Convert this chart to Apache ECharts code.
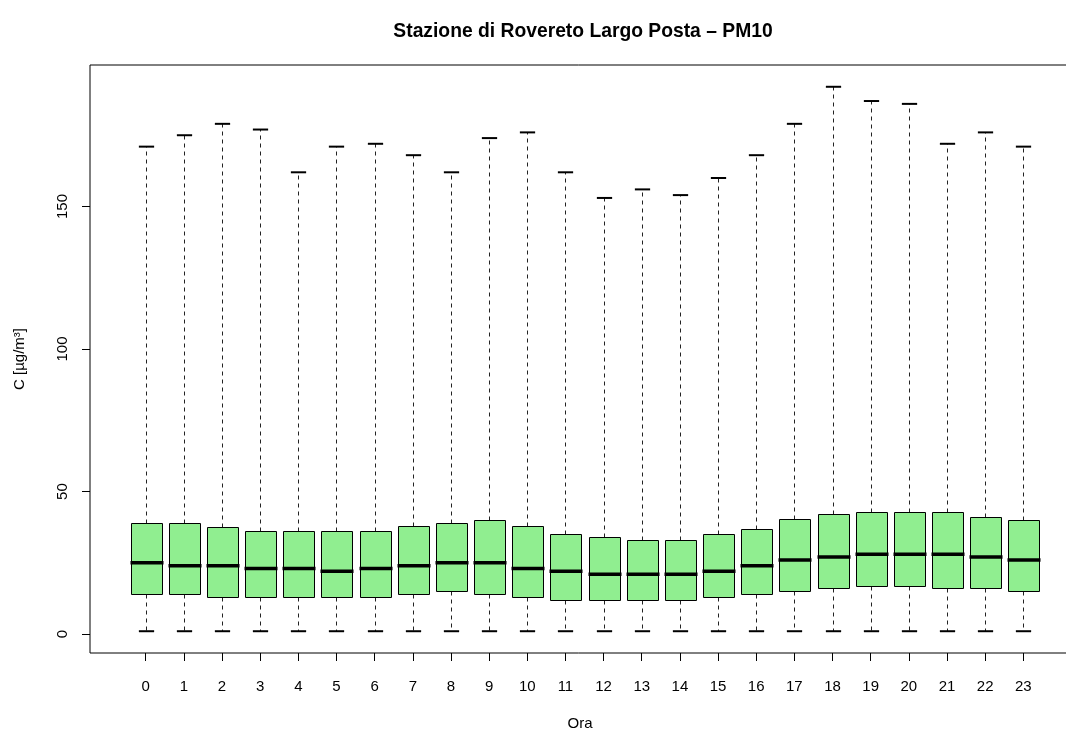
<!DOCTYPE html>
<html>
<head>
<meta charset="utf-8">
<script src="https://cdn.jsdelivr.net/npm/echarts@6/dist/echarts.min.js"></script>
<style>
html,body{margin:0;padding:0;background:#fff;}
#chart{width:1066px;height:731px;}
</style>
</head>
<body>
<div id="chart"></div>
<script>
// ---- data (µg/m³) ----
const hours       = [0,1,2,3,4,5,6,7,8,9,10,11,12,13,14,15,16,17,18,19,20,21,22,23];
const whiskerLow  = [1,1,1,1,1,1,1,1,1,1,1,1,1,1,1,1,1,1,1,1,1,1,1,1];
const q1          = [14,14,13,13,13,13,13,14,15,14,13,12,12,12,12,13,14,15,16,17,17,16,16,15];
const median      = [25,24,24,23,23,22,23,24,25,25,23,22,21,21,21,22,24,26,27,28,28,28,27,26];
const q3          = [39,39,37.5,36,36,36,36,38,39,40,38,35,34,33,33,35,37,40.5,42,43,43,43,41,40];
const whiskerHigh = [171,175,179,177,162,171,172,168,162,174,176,162,153,156,154,160,168,179,192,187,186,172,176,171];
const yTicks      = [0,50,100,150];

const titleText = 'Stazione di Rovereto Largo Posta – PM10';
const xName = 'Ora';
const yName = 'C [µg/m³]';

const FONT = '"Liberation Sans", Arial, Helvetica, sans-serif';

const boxData = hours.map((h, i) => [h, whiskerLow[i], q1[i], median[i], q3[i], whiskerHigh[i]]);

function renderItem(params, api) {
  const x = api.value(0);
  const pLo = api.coord([x, api.value(1)]);
  const pQ1 = api.coord([x, api.value(2)]);
  const pMd = api.coord([x, api.value(3)]);
  const pQ3 = api.coord([x, api.value(4)]);
  const pHi = api.coord([x, api.value(5)]);
  const bw = api.size([0.8, 0])[0];
  const cw = api.size([0.4, 0])[0];
  const cx = Math.round(pMd[0]) + 0.5;
  const left = Math.round(cx - bw / 2) + 0.5;
  const right = Math.round(cx + bw / 2) + 0.5;
  const yQ3 = Math.round(pQ3[1]) + 0.5;
  const yQ1 = Math.round(pQ1[1]) + 0.5;
  const dash = {stroke: '#222', lineWidth: 1, lineDash: [4, 4]};
  return {
    type: 'group',
    children: [
      {type: 'line', shape: {x1: cx, y1: yQ3, x2: cx, y2: pHi[1]}, style: dash},
      {type: 'line', shape: {x1: cx, y1: yQ1, x2: cx, y2: pLo[1]}, style: dash},
      {type: 'line', shape: {x1: cx - cw / 2, y1: pHi[1], x2: cx + cw / 2, y2: pHi[1]}, style: {stroke: '#000', lineWidth: 2}},
      {type: 'line', shape: {x1: cx - cw / 2, y1: pLo[1], x2: cx + cw / 2, y2: pLo[1]}, style: {stroke: '#000', lineWidth: 2}},
      {type: 'rect', shape: {x: left, y: yQ3, width: right - left, height: yQ1 - yQ3}, style: {fill: '#90EE90', stroke: '#000', lineWidth: 1}},
      {type: 'line', shape: {x1: left - 1, y1: pMd[1], x2: right + 1, y2: pMd[1]}, style: {stroke: '#000', lineWidth: 3.5}}
    ]
  };
}

const chart = echarts.init(document.getElementById('chart'), null, {renderer: 'canvas'});
chart.setOption({
  animation: false,
  backgroundColor: '#fff',
  textStyle: {fontFamily: FONT},
  title: {
    text: titleText,
    left: 578,
    textAlign: 'center',
    top: 17,
    textStyle: {fontFamily: FONT, fontWeight: 'bold', fontSize: 19.3, color: '#000'}
  },
  grid: {
    left: 90, top: 65, width: 989, height: 588,
    show: true, borderColor: '#000', borderWidth: 1, backgroundColor: 'transparent',
    containLabel: false,
    outerBoundsMode: 'none'
  },
  xAxis: {
    type: 'value',
    min: -1.46, max: 24.46,
    name: xName,
    nameLocation: 'middle',
    nameGap: 63,
    nameTextStyle: {fontFamily: FONT, fontSize: 15, color: '#000', padding: [0, 9, 0, 0]},
    axisLine: {show: false, onZero: false},
    splitLine: {show: false},
    axisTick: {show: true, inside: false, length: 8, lineStyle: {color: '#000'}, customValues: hours},
    axisLabel: {show: true, fontFamily: FONT, fontSize: 15, color: '#000', margin: 26, customValues: hours}
  },
  yAxis: {
    type: 'value',
    min: -6.64, max: 199.64,
    name: yName,
    nameLocation: 'middle',
    nameGap: 63,
    nameRotate: 90,
    nameTextStyle: {fontFamily: FONT, fontSize: 15, color: '#000'},
    axisLine: {show: false, onZero: false},
    splitLine: {show: false},
    axisTick: {show: true, inside: false, length: 8, lineStyle: {color: '#000'}, customValues: yTicks},
    axisLabel: {show: true, fontFamily: FONT, fontSize: 15, color: '#000', margin: 20, rotate: 90, customValues: yTicks}
  },
  series: [{
    type: 'custom',
    renderItem: renderItem,
    data: boxData,
    encode: {x: 0, y: [1, 2, 3, 4, 5]},
    clip: false
  }]
});
</script>
</body>
</html>
